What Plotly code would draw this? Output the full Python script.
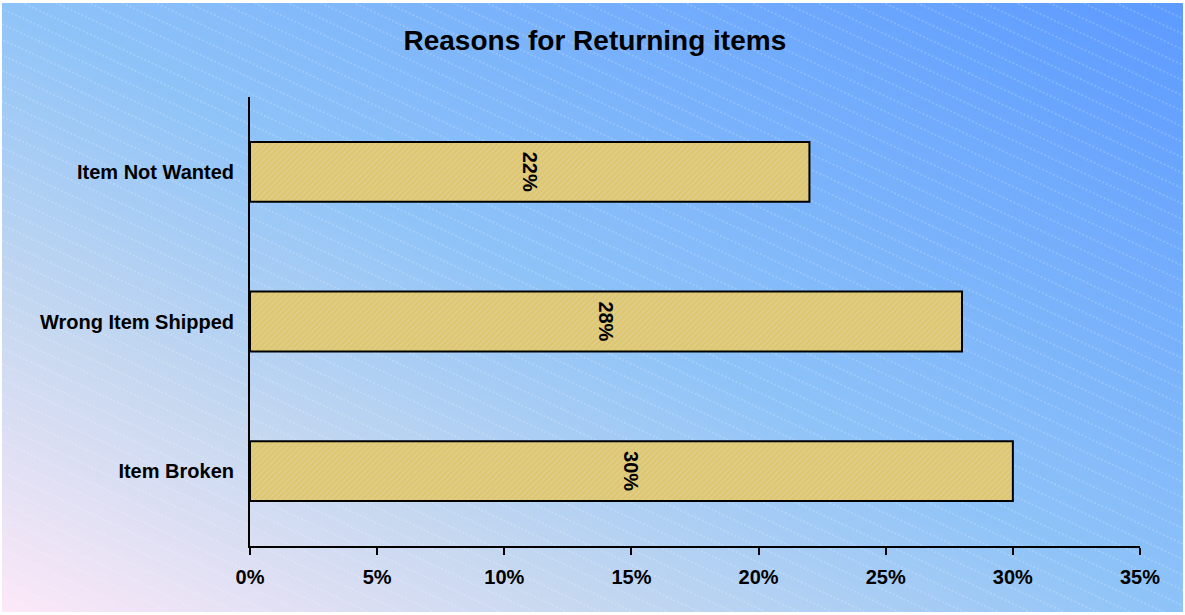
import base64
import plotly.graph_objects as go

categories = ["Item Broken", "Wrong Item Shipped", "Item Not Wanted"]
values = [0.30, 0.28, 0.22]
title_text = "Reasons for Returning items"
x_ticks = [0, 0.05, 0.10, 0.15, 0.20, 0.25, 0.30, 0.35]

W, H = 1185, 615
ML, MR, MT, MB = 250, 45, 97, 69
FONT = "Arial, Liberation Sans, sans-serif"

svg = f"""<svg xmlns='http://www.w3.org/2000/svg' width='{W}' height='{H}' viewBox='0 0 {W} {H}' preserveAspectRatio='none'>
<defs>
<linearGradient id='g' x1='0' y1='1' x2='1' y2='0'>
<stop offset='0' stop-color='#FCE8F8'/>
<stop offset='0.25' stop-color='#C6D8F0'/>
<stop offset='0.5' stop-color='#8EC3F8'/>
<stop offset='1' stop-color='#5C9AFF'/>
</linearGradient>
<pattern id='p' patternUnits='userSpaceOnUse' width='400' height='14' patternTransform='rotate(25)'>
<line x1='0' y1='7' x2='400' y2='7' stroke='white' stroke-width='1' stroke-dasharray='2,2' stroke-opacity='0.35'/>
</pattern>
</defs>
<rect x='0' y='0' width='{W}' height='{H}' fill='white'/>
<rect x='2' y='3' width='{W-4}' height='{H-6}' fill='url(#g)'/>
<rect x='2' y='3' width='{W-4}' height='{H-6}' fill='url(#p)'/>
</svg>"""
src = "data:image/svg+xml;base64," + base64.b64encode(svg.encode()).decode()

pw = W - ML - MR
ph = H - MT - MB

fig = go.Figure()
fig.add_trace(go.Bar(
    y=categories, x=values, orientation="h", width=0.4,
    marker=dict(
        color="#DCC87C",
        line=dict(color="black", width=2),
        pattern=dict(shape="/", fgcolor="#E2B232", bgcolor="#DECD86",
                     size=4, solidity=0.4, fgopacity=0.35),
    ),
    texttemplate="%{x:.0%}", textposition="inside", insidetextanchor="middle",
    textangle=90, textfont=dict(family=FONT, size=20, color="black", weight="bold"),
    hoverinfo="skip",
))

fig.update_layout(
    width=W, height=H,
    margin=dict(l=ML, r=MR, t=MT, b=MB, pad=0),
    paper_bgcolor="rgba(0,0,0,0)", plot_bgcolor="rgba(0,0,0,0)",
    showlegend=False,
    title=dict(text=title_text, x=0.502, xanchor="center", y=1 - 40 / H, yanchor="middle",
               yref="container",
               font=dict(family=FONT, size=28, color="black", weight="bold")),
    images=[dict(source=src, xref="paper", yref="paper",
                 x=-ML / pw, y=1 + MT / ph, sizex=W / pw, sizey=H / ph,
                 xanchor="left", yanchor="top", sizing="stretch", layer="below")],
    bargap=0.6,
)
fig.update_xaxes(
    range=[0, 0.35], tickvals=x_ticks, tickformat=".0%",
    showgrid=False, zeroline=False,
    showline=True, linecolor="black", linewidth=2,
    ticks="outside", ticklen=7, tickwidth=2, tickcolor="black",
    tickfont=dict(family=FONT, size=20, color="black", weight="bold"),
    ticklabelstandoff=5, fixedrange=True,
)
fig.update_yaxes(
    range=[-0.5, 2.5], showgrid=False, zeroline=False,
    showline=True, linecolor="black", linewidth=2, ticks="",
    tickfont=dict(family=FONT, size=20, color="black", weight="bold"),
    ticklabelstandoff=10, fixedrange=True,
)

fig.write_html("out.html", post_script="document.body.style.margin='0';document.body.style.overflow='hidden';",
               config={"displayModeBar": False})
